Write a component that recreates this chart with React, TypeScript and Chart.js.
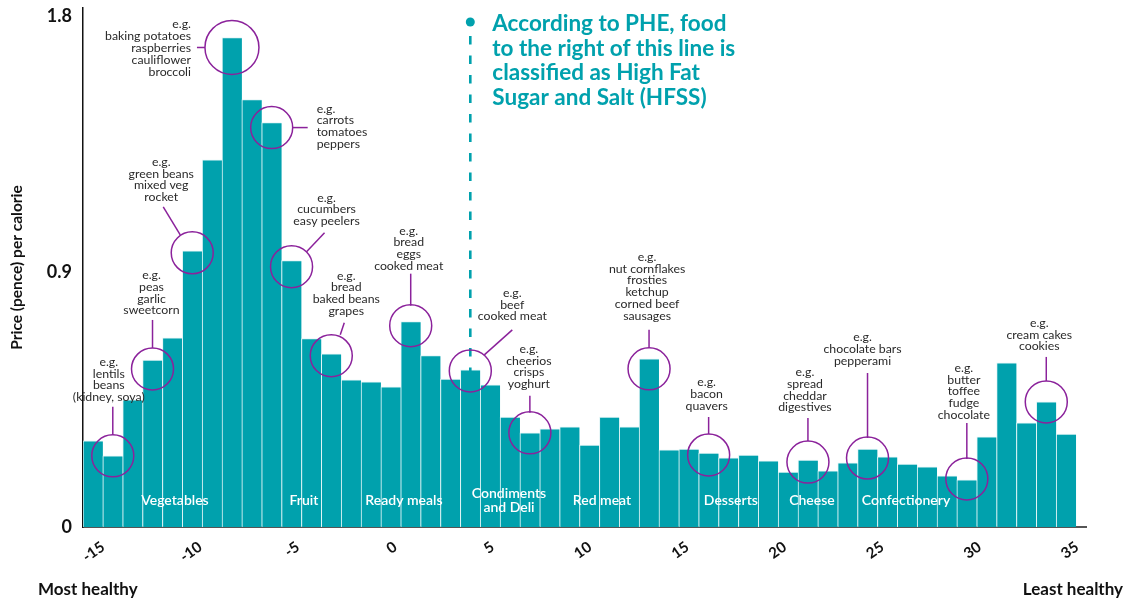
import React, { useEffect, useRef } from "react";
import { Chart, registerables } from "chart.js";

Chart.register(...registerables);

// ---- data ----
const X_VALUES = [
  -15, -14, -13, -12, -11, -10, -9, -8, -7, -6, -5, -4, -3, -2, -1, 0, 1, 2, 3, 4,
  5, 6, 7, 8, 9, 10, 11, 12, 13, 14, 15, 16, 17, 18, 19, 20, 21, 22, 23, 24,
  25, 26, 27, 28, 29, 30, 31, 32, 33, 34,
];
const PRICES = [
  0.304, 0.251, 0.448, 0.589, 0.667, 0.974, 1.295, 1.726, 1.507, 1.426,
  0.939, 0.664, 0.611, 0.519, 0.512, 0.494, 0.724, 0.604, 0.522, 0.554,
  0.501, 0.388, 0.332, 0.346, 0.353, 0.289, 0.388, 0.353, 0.593, 0.272,
  0.275, 0.261, 0.244, 0.254, 0.233, 0.194, 0.236, 0.198, 0.226, 0.275,
  0.247, 0.222, 0.212, 0.18, 0.166, 0.318, 0.579, 0.367, 0.441, 0.328,
];
const X_TICKS = [-15, -10, -5, 0, 5, 10, 15, 20, 25, 30, 35];
const Y_TICKS = [0, 0.9, 1.8];
const HFSS_X = 4;
const HFSS_TEXT = [
  "According to PHE, food",
  "to the right of this line is",
  "classified as High Fat",
  "Sugar and Salt (HFSS)",
];
const CATEGORY_NAMES = [
  ["Vegetables"],
  ["Fruit"],
  ["Ready meals"],
  ["Condiments", "and Deli"],
  ["Red meat"],
  ["Desserts"],
  ["Cheese"],
  ["Confectionery"],
];
const CATEGORY_X = [-10.87, -4.38, 0.66, 5.95, 10.63, 17.12, 21.2, 25.94];
const EXAMPLE_BARS = [1, 3, 5, 7, 9, 10, 12, 16, 19, 22, 28, 31, 36, 39, 44, 48];
const EXAMPLE_TEXTS = [
  ["e.g.", "lentils", "beans", "(kidney, soya)"],
  ["e.g.", "peas", "garlic", "sweetcorn"],
  ["e.g.", "green beans", "mixed veg", "rocket"],
  ["e.g.", "baking potatoes", "raspberries", "cauliflower", "broccoli"],
  ["e.g.", "carrots", "tomatoes", "peppers"],
  ["e.g.", "cucumbers", "easy peelers"],
  ["e.g.", "bread", "baked beans", "grapes"],
  ["e.g.", "bread", "eggs", "cooked meat"],
  ["e.g.", "beef", "cooked meat"],
  ["e.g.", "cheerios", "crisps", "yoghurt"],
  ["e.g.", "nut cornflakes", "frosties", "ketchup", "corned beef", "sausages"],
  ["e.g.", "bacon", "quavers"],
  ["e.g.", "spread", "cheddar", "digestives"],
  ["e.g.", "chocolate bars", "pepperami"],
  ["e.g.", "butter", "toffee", "fudge", "chocolate"],
  ["e.g.", "cream cakes", "cookies"],
];

// ---- layout of the callouts (pixel offsets relative to the circled bar top) ----
const CALLOUT_LAYOUT = [
  { cy: 0, r: 21, dx: -4, dy: -94, align: "center", l: [0, -49, 0, -21] },
  { cy: 9, r: 21, dx: -1, dy: -94, align: "center", l: [0, -49, 0, -21] },
  { cy: 2, r: 21, dx: -31, dy: -91, align: "center", l: [-29, -46, -12, -18] },
  { cy: 10, r: 27, dx: -41, dy: -23, align: "right", l: [-35, 0, -27, 0] },
  { cy: 5, r: 21, dx: 45, dy: -19, align: "left", l: [21, 0, 36, 0] },
  { cy: 6, r: 21, dx: 35, dy: -69, align: "center", l: [33, -34, 15, -15] },
  { cy: 2, r: 21, dx: 15, dy: -80, align: "center", l: [13, -33, 9, -21] },
  { cy: 4, r: 21, dx: -2, dy: -95, align: "center", l: [0, -52, 0, -20] },
  { cy: 1, r: 21, dx: 42, dy: -78, align: "center", l: [42, -41, 14, -16] },
  { cy: 0, r: 21, dx: -1, dy: -84, align: "center", l: [0, -37, 0, -20] },
  { cy: 10, r: 21, dx: -2, dy: -112, align: "center", l: [0, -39, 0, -21] },
  { cy: 2, r: 21, dx: -2, dy: -73, align: "center", l: [0, -38, 0, -21] },
  { cy: 2, r: 21, dx: -3, dy: -90, align: "center", l: [0, -44, 0, -21] },
  { cy: 9, r: 21, dx: -5, dy: -121, align: "center", l: [0, -85, 0, -20] },
  { cy: -1, r: 21, dx: -3, dy: -111, align: "center", l: [0, -56, 0, -20] },
  { cy: 0, r: 21, dx: -7, dy: -79, align: "center", l: [0, -45, 0, -21] },
];

const TEAL = "#00a1ad";
const PURPLE = "#8b229b";
const FONT = "Lato, 'Noto Sans', sans-serif";

const overlayPlugin = {
  id: "overlay",
  afterDatasetsDraw(chart: any) {
    const ctx = chart.ctx;
    const xs = chart.scales.x;
    const ys = chart.scales.y;
    const area = chart.chartArea;
    ctx.save();

    // category labels inside bars
    ctx.fillStyle = "#ffffff";
    ctx.font = `600 14px ${FONT}`;
    ctx.textAlign = "center";
    ctx.textBaseline = "middle";
    CATEGORY_NAMES.forEach((lines, i) => {
      const px = xs.getPixelForValue(CATEGORY_X[i]);
      const base = ys.getPixelForValue(0.092);
      const start = base - ((lines.length - 1) * 14) / 2;
      lines.forEach((t, j) => ctx.fillText(t, px, start + j * 14));
    });

    // HFSS dashed line
    const hx = xs.getPixelForValue(HFSS_X);
    ctx.strokeStyle = TEAL;
    ctx.lineWidth = 2.6;
    ctx.setLineDash([8.5, 11]);
    ctx.beginPath();
    ctx.moveTo(hx, 36);
    ctx.lineTo(hx, area.bottom);
    ctx.stroke();
    ctx.setLineDash([]);
    ctx.fillStyle = TEAL;
    ctx.beginPath();
    ctx.arc(hx, 22, 4.5, 0, Math.PI * 2);
    ctx.fill();
    ctx.font = `bold 22.5px ${FONT}`;
    ctx.textAlign = "left";
    ctx.textBaseline = "middle";
    HFSS_TEXT.forEach((t, i) => ctx.fillText(t, hx + 22, 24 + i * 24.5));

    // callouts
    ctx.font = `12.3px ${FONT}`;
    EXAMPLE_BARS.forEach((b, i) => {
      const lay = CALLOUT_LAYOUT[i];
      const cx = xs.getPixelForValue(X_VALUES[b]);
      const cy = ys.getPixelForValue(PRICES[b]) + lay.cy;
      ctx.strokeStyle = PURPLE;
      ctx.lineWidth = 1.5;
      ctx.beginPath();
      ctx.arc(cx, cy, lay.r, 0, Math.PI * 2);
      ctx.stroke();
      ctx.beginPath();
      ctx.moveTo(cx + lay.l[0], cy + lay.l[1]);
      ctx.lineTo(cx + lay.l[2], cy + lay.l[3]);
      ctx.stroke();
      ctx.fillStyle = "#2a2a2a";
      ctx.textAlign = lay.align as CanvasTextAlign;
      EXAMPLE_TEXTS[i].forEach((t, j) =>
        ctx.fillText(t, cx + lay.dx, cy + lay.dy + j * 11.8)
      );
    });

    // bottom captions
    ctx.fillStyle = "#111";
    ctx.font = `bold 17px ${FONT}`;
    ctx.textBaseline = "middle";
    ctx.textAlign = "left";
    ctx.fillText("Most healthy", 38, 590);
    ctx.textAlign = "right";
    ctx.fillText("Least healthy", 1123, 590);
    ctx.restore();
  },
};

export default function App() {
  const ref = useRef<HTMLCanvasElement | null>(null);
  useEffect(() => {
    if (!ref.current) return;
    const chart = new Chart(ref.current, {
      type: "bar",
      data: {
        datasets: [
          {
            xAxisID: "x",
            yAxisID: "y",
            data: X_VALUES.map((x, i) => ({ x, y: PRICES[i] })),
            backgroundColor: TEAL,
            borderColor: "rgba(225,245,247,0.95)",
            borderWidth: { left: 1, top: 1, right: 0, bottom: 0 },
            borderSkipped: false,
            barPercentage: 1,
            categoryPercentage: 1,
          },
        ],
      },
      options: {
        responsive: false,
        animation: false,
        layout: { padding: { top: 8, right: 45, left: 0, bottom: 0 } },
        plugins: { legend: { display: false }, tooltip: { enabled: false } },
        scales: {
          x: {
            type: "linear",
            position: "bottom",
            offset: false,
            min: -15.5,
            max: 35,
            grid: { display: false, offset: false, drawTicks: false },
            border: { display: true, color: "#555", width: 2 },
            ticks: { display: false },
            afterFit: (s: any) => {
              s.height = 0;
              s.paddingLeft = 0;
              s.paddingRight = 0;
            },
          },
          xLabels: {
            type: "linear",
            position: "bottom",
            offset: false,
            min: -16.03,
            max: 35.46,
            grid: { display: false, drawTicks: false },
            border: { display: false },
            afterBuildTicks: (s: any) => {
              s.ticks = X_TICKS.map((v) => ({ value: v }));
            },
            afterFit: (s: any) => {
              s.height = 74;
              s.paddingLeft = 0;
              s.paddingRight = 0;
            },
            ticks: {
              autoSkip: false,
              minRotation: 35,
              maxRotation: 35,
              padding: 11,
              color: "#111",
              font: { family: FONT, size: 15, weight: "bold" },
              callback: (v: any) => String(v),
            },
          },
          y: {
            type: "linear",
            min: 0,
            max: 1.83,
            grid: { display: false, drawTicks: false },
            border: { display: true, color: "#111", width: 1.5 },
            afterBuildTicks: (s: any) => {
              s.ticks = Y_TICKS.map((v) => ({ value: v }));
            },
            afterFit: (s: any) => {
              s.width = 83;
              s.paddingTop = 0;
              s.paddingBottom = 0;
            },
            ticks: {
              padding: 11,
              color: "#111",
              font: { family: FONT, size: 18, weight: "bold" },
              callback: (v: any) => (v === 0 ? "0" : Number(v).toFixed(1)),
            },
            title: {
              display: true,
              text: "Price (pence) per calorie",
              color: "#111",
              font: { family: FONT, size: 15.5, weight: "bold" },
              padding: { top: 8, bottom: 0 },
            },
          },
        },
      },
      plugins: [overlayPlugin],
    } as any);
    return () => chart.destroy();
  }, []);
  return (
    <div style={{ position: "fixed", left: 0, top: 0, width: 1131, height: 601, background: "#fff" }}>
      <canvas ref={ref} width={1131} height={601} style={{ display: "block" }} />
    </div>
  );
}
